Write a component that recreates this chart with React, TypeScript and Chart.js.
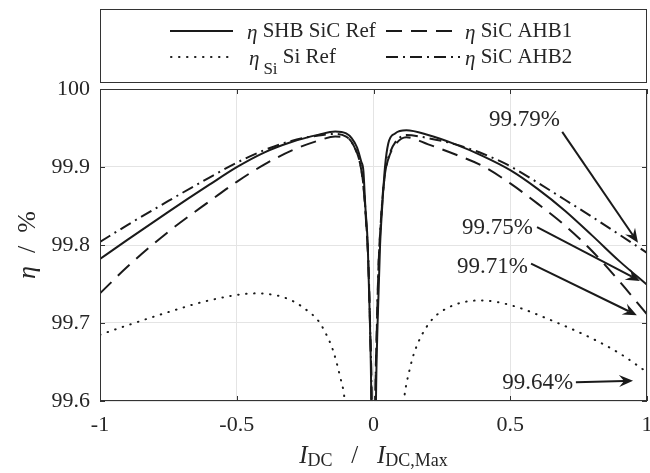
import React, { useEffect, useRef } from 'react';
import { Chart, registerables } from 'chart.js';
Chart.register(...registerables);

// ---------- data ----------
const xTickValues = [-1, -0.5, 0, 0.5, 1];
const yTickValues = [99.6, 99.7, 99.8, 99.9, 100];

const seriesNames = ['SHB SiC Ref', 'SiC AHB1', 'Si Ref', 'SiC AHB2'];

const shbX = [-1, -0.9, -0.75, -0.6, -0.5, -0.4, -0.3, -0.2, -0.14, -0.1, -0.08, -0.06, -0.045, -0.037, -0.03, -0.021, -0.013, -0.008, 0, 0.009, 0.015, 0.024, 0.032, 0.042, 0.054, 0.079, 0.12, 0.2, 0.3, 0.4, 0.5, 0.6, 0.7, 0.8, 0.9, 1];
const shbY = [99.782, 99.8065, 99.8425, 99.8773, 99.8998, 99.9185, 99.932, 99.9415, 99.9455, 99.943, 99.937, 99.925, 99.907, 99.895, 99.85, 99.8, 99.7, 99.6, 99.2, 99.6, 99.7, 99.8, 99.85, 99.9, 99.93, 99.943, 99.947, 99.941, 99.929, 99.914, 99.896, 99.872, 99.844, 99.812, 99.779, 99.749];

const ahbX = [-1, -0.9, -0.75, -0.6, -0.5, -0.4, -0.3, -0.2, -0.14, -0.1, -0.08, -0.06, -0.045, -0.035, -0.025, -0.019, -0.012, -0.007, 0, 0.007, 0.012, 0.019, 0.025, 0.035, 0.045, 0.06, 0.08, 0.12, 0.2, 0.3, 0.4, 0.5, 0.6, 0.7, 0.8, 0.9, 1];
const ahb1Y = [99.738, 99.772, 99.817, 99.856, 99.881, 99.903, 99.921, 99.934, 99.939, 99.938, 99.932, 99.917, 99.897, 99.868, 99.818, 99.778, 99.688, 99.6, 99.2, 99.6, 99.688, 99.778, 99.818, 99.868, 99.897, 99.916, 99.929, 99.938, 99.929, 99.916, 99.901, 99.879, 99.853, 99.825, 99.792, 99.753, 99.711];
const ahb2Y = [99.804, 99.8255, 99.8565, 99.8865, 99.9055, 99.9215, 99.9335, 99.9405, 99.9425, 99.939, 99.932, 99.918, 99.898, 99.87, 99.82, 99.78, 99.69, 99.6, 99.2, 99.6, 99.69, 99.78, 99.82, 99.87, 99.898, 99.918, 99.932, 99.941, 99.937, 99.929, 99.917, 99.901, 99.88, 99.858, 99.836, 99.813, 99.79];

const siX = [-1, -0.9, -0.75, -0.6, -0.43, -0.35, -0.3, -0.254, -0.2, -0.175, -0.148, -0.122, -0.107, -0.095, 0.1, 0.113, 0.132, 0.152, 0.204, 0.269, 0.393, 0.5, 0.66, 0.8, 0.9, 1];
const siY = [99.685, 99.697, 99.714, 99.729, 99.738, 99.735, 99.729, 99.719, 99.702, 99.687, 99.665, 99.631, 99.606, 99.56, 99.56, 99.606, 99.64, 99.665, 99.7, 99.719, 99.729, 99.723, 99.702, 99.68, 99.661, 99.637];

// annotations (data coordinates)
const annoLabels = ['99.79%', '99.75%', '99.71%', '99.64%'];
const annoTextX = [0.682, 0.583, 0.565, 0.73];
const annoTextY = [99.96, 99.822, 99.772, 99.623];
const arrowFromX = [0.69, 0.598, 0.576, 0.74];
const arrowFromY = [99.945, 99.823, 99.776, 99.624];
const arrowToX = [0.967, 0.974, 0.963, 0.949];
const arrowToY = [99.803, 99.754, 99.71, 99.626];

// ---------- styling ----------
const FONT = "'Liberation Serif', 'Times New Roman', serif";
const INK = '#262626';
const LINE = '#1a1a1a';
const DASH_SOLID: number[] = [];
const DASH_DASHED = [16, 9];
const DASH_DOTTED = [0.5, 7.5];
const DASH_DASHDOT = [12, 5, 2, 5];

function pts(xs: number[], ys: number[]) {
  return xs.map((x, i) => ({ x, y: ys[i] }));
}

function drawArrow(ctx: CanvasRenderingContext2D, x1: number, y1: number, x2: number, y2: number) {
  const a = Math.atan2(y2 - y1, x2 - x1);
  const hl = 14, hw = 6, notch = 9;
  const c = Math.cos(a), s = Math.sin(a);
  const nx = x2 - notch * c, ny = y2 - notch * s;
  ctx.beginPath();
  ctx.moveTo(x1, y1);
  ctx.lineTo(nx, ny);
  ctx.stroke();
  const bx = x2 - hl * c, by = y2 - hl * s;
  ctx.beginPath();
  ctx.moveTo(x2, y2);
  ctx.lineTo(bx - hw * s, by + hw * c);
  ctx.lineTo(nx, ny);
  ctx.lineTo(bx + hw * s, by - hw * c);
  ctx.closePath();
  ctx.fill();
}

function drawPieces(ctx: CanvasRenderingContext2D, pieces: { t: string; f: string; dy: number }[], cx: number, baseY: number) {
  let total = 0;
  for (const p of pieces) { ctx.font = p.f; total += ctx.measureText(p.t).width; }
  let x = cx - total / 2;
  ctx.textAlign = 'left';
  ctx.textBaseline = 'alphabetic';
  for (const p of pieces) {
    ctx.font = p.f;
    ctx.fillText(p.t, x, baseY + p.dy);
    x += ctx.measureText(p.t).width;
  }
}

const decorPlugin = {
  id: 'decor',
  afterDraw(chart: any) {
    const ctx: CanvasRenderingContext2D = chart.ctx;
    const { left, right, top, bottom } = chart.chartArea;
    const xs = chart.scales.x, ys = chart.scales.y;
    ctx.save();

    // frame
    ctx.strokeStyle = '#333';
    ctx.lineWidth = 1;
    ctx.setLineDash([]);
    ctx.strokeRect(Math.round(left) + 0.5, Math.round(top) + 0.5, Math.round(right - left) - 1, Math.round(bottom - top) - 1);
    // inward ticks
    ctx.beginPath();
    for (const v of xTickValues) {
      const px = Math.round(xs.getPixelForValue(v)) + 0.5;
      ctx.moveTo(px, bottom); ctx.lineTo(px, bottom - 5);
      ctx.moveTo(px, top); ctx.lineTo(px, top + 5);
    }
    for (const v of yTickValues) {
      const py = Math.round(ys.getPixelForValue(v)) + 0.5;
      ctx.moveTo(left, py); ctx.lineTo(left + 5, py);
      ctx.moveTo(right, py); ctx.lineTo(right - 5, py);
    }
    ctx.stroke();

    // annotations
    ctx.fillStyle = INK;
    ctx.strokeStyle = LINE;
    ctx.font = `23px ${FONT}`;
    ctx.textAlign = 'right';
    ctx.textBaseline = 'middle';
    annoLabels.forEach((lab, i) => {
      ctx.fillStyle = INK;
      ctx.fillText(lab, xs.getPixelForValue(annoTextX[i]), ys.getPixelForValue(annoTextY[i]));
    });
    ctx.lineWidth = 2;
    ctx.fillStyle = LINE;
    annoLabels.forEach((_, i) => {
      drawArrow(ctx, xs.getPixelForValue(arrowFromX[i]), ys.getPixelForValue(arrowFromY[i]),
        xs.getPixelForValue(arrowToX[i]), ys.getPixelForValue(arrowToY[i]));
    });

    // legend box
    const lx = Math.round(left) + 0.5, ly = 9.5, lw = Math.round(right - left) - 1, lh = 73;
    ctx.fillStyle = '#fff';
    ctx.fillRect(lx, ly, lw, lh);
    ctx.strokeStyle = '#333';
    ctx.lineWidth = 1;
    ctx.setLineDash([]);
    ctx.strokeRect(lx, ly, lw, lh);

    const sample = (x1: number, x2: number, y: number, dash: number[]) => {
      ctx.save();
      ctx.strokeStyle = LINE;
      ctx.lineWidth = 2;
      ctx.setLineDash(dash);
      ctx.lineCap = dash === DASH_DOTTED ? 'round' : 'butt';
      ctx.beginPath(); ctx.moveTo(x1, y); ctx.lineTo(x2, y); ctx.stroke();
      ctx.restore();
    };
    const r1 = 31, r2 = 57;
    sample(170, 233, r1, DASH_SOLID);
    sample(386, 460, r1, DASH_DASHED);
    sample(171, 228, r2, DASH_DOTTED);
    sample(386, 460, r2, DASH_DASHDOT);

    ctx.fillStyle = INK;
    ctx.textAlign = 'left';
    ctx.textBaseline = 'middle';
    const legText = (x: number, y: number, name: string, sub?: string) => {
      ctx.font = `italic 21px ${FONT}`;
      ctx.fillText('η', x, y + 2);
      let cx = x + ctx.measureText('η').width;
      if (sub) {
        ctx.font = `17px ${FONT}`;
        ctx.fillText(sub, cx + 4, y + 13);
        cx += 4 + ctx.measureText(sub).width;
      }
      ctx.font = `21px ${FONT}`;
      ctx.fillText(' ' + name, cx, y);
    };
    legText(247, r1, seriesNames[0]);
    legText(465, r1, seriesNames[1]);
    legText(249, r2, seriesNames[2], 'Si');
    legText(465, r2, seriesNames[3]);

    // axis titles
    ctx.fillStyle = INK;
    drawPieces(ctx, [
      { t: 'I', f: `italic 25px ${FONT}`, dy: 0 },
      { t: 'DC', f: `18px ${FONT}`, dy: 3 },
      { t: '   /   ', f: `25px ${FONT}`, dy: 0 },
      { t: 'I', f: `italic 25px ${FONT}`, dy: 0 },
      { t: 'DC,Max', f: `18px ${FONT}`, dy: 3 },
    ], (left + right) / 2, 463);

    ctx.save();
    ctx.translate(35, (top + bottom) / 2);
    ctx.rotate(-Math.PI / 2);
    drawPieces(ctx, [
      { t: 'η', f: `italic 26px ${FONT}`, dy: 0 },
      { t: '  /  %', f: `26px ${FONT}`, dy: 0 },
    ], 0, 0);
    ctx.restore();

    ctx.restore();
  },
};

export default function App() {
  const ref = useRef<HTMLCanvasElement | null>(null);
  useEffect(() => {
    document.body.style.margin = '0';
    const canvas = ref.current!;
    const common = { borderColor: LINE, borderWidth: 2, pointRadius: 0, fill: false, cubicInterpolationMode: 'monotone' as const, clip: 0 };
    const chart = new Chart(canvas, {
      type: 'line',
      data: {
        datasets: [
          { ...common, label: seriesNames[0], data: pts(shbX, shbY), borderDash: DASH_SOLID },
          { ...common, label: seriesNames[1], data: pts(ahbX, ahb1Y), borderDash: DASH_DASHED },
          { ...common, label: seriesNames[2], data: pts(siX, siY), borderDash: DASH_DOTTED, borderCapStyle: 'round' },
          { ...common, label: seriesNames[3], data: pts(ahbX, ahb2Y), borderDash: DASH_DASHDOT },
        ],
      },
      options: {
        responsive: false,
        animation: false,
        parsing: false as any,
        layout: { padding: { left: 0, right: 3, top: 89, bottom: 0 } },
        plugins: { legend: { display: false }, tooltip: { enabled: false } },
        scales: {
          x: {
            type: 'linear',
            min: -1, max: 1,
            afterBuildTicks: (s: any) => { s.ticks = xTickValues.map(v => ({ value: v })); },
            afterFit: (s: any) => { s.height = 72; s.paddingLeft = 0; s.paddingRight = 0; },
            ticks: {
              color: INK, font: { family: FONT, size: 22 }, padding: 11, maxRotation: 0,
              callback: (v: any) => String(Number(Number(v).toFixed(2))),
            },
            grid: { color: '#e4e4e4', drawTicks: false, lineWidth: 1 },
            border: { display: false },
          },
          y: {
            type: 'linear',
            min: 99.6, max: 100,
            afterBuildTicks: (s: any) => { s.ticks = yTickValues.map(v => ({ value: v })); },
            afterFit: (s: any) => { s.width = 100; s.paddingTop = 0; s.paddingBottom = 0; },
            ticks: {
              color: INK, font: { family: FONT, size: 22 }, padding: 10,
              callback: (v: any) => String(Number(Number(v).toFixed(1))),
            },
            grid: { color: '#e4e4e4', drawTicks: false, lineWidth: 1 },
            border: { display: false },
          },
        },
      },
      plugins: [decorPlugin],
    } as any);
    return () => chart.destroy();
  }, []);
  return (
    <div style={{ width: 650, height: 473, background: '#fff' }}>
      <canvas ref={ref} width={650} height={473} style={{ display: 'block' }} />
    </div>
  );
}
